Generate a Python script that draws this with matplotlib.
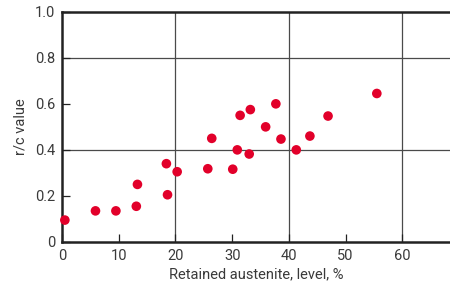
import matplotlib.pyplot as plt

# Retained austenite (%) vs r/c value
austenite = [0.5, 5.9, 9.5, 13.1, 13.3, 18.4, 18.6, 20.3, 25.7, 26.4, 30.1,
             30.9, 31.4, 33.0, 33.2, 35.9, 37.7, 38.6, 41.3, 43.7, 46.9, 55.5]
rc_value = [0.095, 0.135, 0.135, 0.155, 0.25, 0.34, 0.205, 0.305, 0.318, 0.45, 0.316,
            0.40, 0.55, 0.382, 0.575, 0.50, 0.60, 0.447, 0.40, 0.46, 0.547, 0.645]

x_ticks = [0, 10, 20, 30, 40, 50, 60]
y_ticks = [0, 0.2, 0.4, 0.6, 0.8, 1.0]
y_labels = ['0', '0.2', '0.4', '0.6', '0.8', '1.0']
x_grid = [20, 40, 60]
y_grid = [0.4, 0.8]

plt.rcParams['font.family'] = ['Roboto', 'DejaVu Sans']
text_color = '#3a3a3a'

fig = plt.figure(figsize=(4.5, 2.87), dpi=100)
ax = fig.add_axes([0.1378, 0.157, 0.8622, 0.802])

for gx in x_grid:
    ax.axvline(gx, color='#4a4a4a', linewidth=0.9, zorder=1)
for gy in y_grid:
    ax.axhline(gy, color='#4a4a4a', linewidth=0.9, zorder=1)

ax.scatter(austenite, rc_value, s=48, color='#e2002a', edgecolors='none', zorder=3,
           clip_on=False)

ax.set_xlim(0, 68.4)
ax.set_ylim(0, 1.0)
ax.set_xticks(x_ticks)
ax.set_xticklabels([str(t) for t in x_ticks])
ax.set_yticks(y_ticks)
ax.set_yticklabels(y_labels)
ax.tick_params(direction='in', length=5.5, width=0.9, color='#222222',
               labelsize=10.5, labelcolor=text_color, pad=5)

for side in ['left', 'bottom', 'top']:
    ax.spines[side].set_linewidth(1.8)
    ax.spines[side].set_color('#222222')
ax.spines['right'].set_visible(False)

ax.set_xlabel('Retained austenite, level, %', fontsize=10.5, color=text_color, labelpad=3)
ax.set_ylabel('r/c value', fontsize=10.5, color=text_color, labelpad=5)

fig.savefig('out.png', dpi=100)
